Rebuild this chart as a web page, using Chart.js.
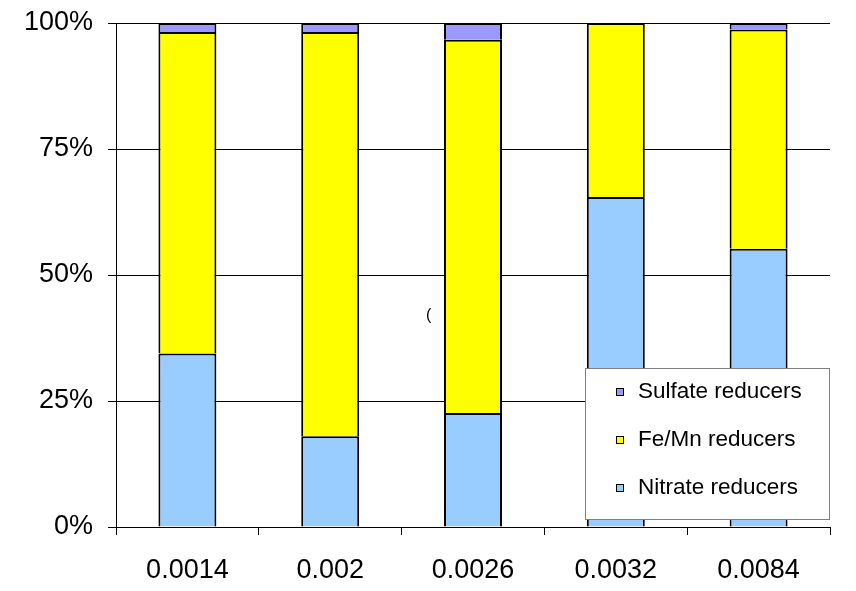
<!DOCTYPE html>
<html>
<head>
<meta charset="utf-8">
<script src="https://cdn.jsdelivr.net/npm/chart.js@4/dist/chart.umd.min.js"></script>
<style>
  body { margin: 0; background: #fff; }
  #wrap { width: 856px; height: 591px; }
</style>
</head>
<body>
<div id="wrap"><canvas id="barChart" width="856" height="591"></canvas></div>
<script>
// categories and stacked percentages
var categories = ['0.0014', '0.002', '0.0026', '0.0032', '0.0084'];
var nitrate    = [34.4, 18.0, 22.6, 65.5, 55.2];
var feMn       = [63.8, 80.2, 74.1, 34.5, 43.5];
var sulfate    = [1.8, 1.8, 3.3, 0, 1.3];
var yTicks     = [0, 25, 50, 75, 100];

var FONT = 'Liberation Sans, Arial, sans-serif';

// legend box drawn inside the plot, like the original
var boxLegend = {
    id: 'boxLegend',
    afterDraw: function(chart) {
        var ctx = chart.ctx;
        var x = 585, y = 368, w = 244, h = 151;
        ctx.save();
        ctx.fillStyle = '#fff';
        ctx.fillRect(x, y, w, h);
        ctx.strokeStyle = '#808080';
        ctx.lineWidth = 1;
        ctx.strokeRect(x + 0.5, y + 0.5, w, h);
        var rows = [392, 440, 488];
        var sets = chart.data.datasets.slice().reverse();
        ctx.font = '22.5px ' + FONT;
        ctx.textBaseline = 'middle';
        for (var i = 0; i < sets.length; i++) {
            ctx.fillStyle = sets[i].backgroundColor;
            ctx.fillRect(616, rows[i] - 4, 8, 8);
            ctx.strokeStyle = '#000';
            ctx.strokeRect(616.5, rows[i] - 3.5, 7, 7);
            ctx.fillStyle = '#000';
            ctx.fillText(sets[i].label, 638, rows[i]);
        }
        // stray glyph left over in the original image
        ctx.font = '16px ' + FONT;
        ctx.fillText('(', 426, 316);
        ctx.restore();
    }
};

var barChartCanvas = document.getElementById('barChart').getContext('2d');
var barChart = new Chart(barChartCanvas, {
    type: 'bar',
    data: {
        labels: categories,
        datasets: [
            { label: 'Nitrate reducers', data: nitrate, backgroundColor: '#99CCFF' },
            { label: 'Fe/Mn reducers',   data: feMn,    backgroundColor: '#FFFF00' },
            { label: 'Sulfate reducers', data: sulfate, backgroundColor: '#9999FF' }
        ]
    },
    options: {
        responsive: false,
        animation: false,
        devicePixelRatio: 1,
        layout: { padding: { top: 23, right: 26, left: 0, bottom: 0 } },
        datasets: {
            bar: {
                borderColor: '#000',
                borderWidth: 2,
                barPercentage: 0.406,
                categoryPercentage: 1
            }
        },
        plugins: {
            legend: { display: false },
            tooltip: { enabled: false }
        },
        scales: {
            x: {
                stacked: true,
                afterFit: function(s) { s.height = 64; s.paddingLeft = 0; s.paddingRight = 0; },
                grid: { drawOnChartArea: false, drawTicks: true, tickLength: 8, color: '#000', offset: true },
                border: { color: '#000', width: 1 },
                ticks: { color: '#000', padding: 19, font: { family: FONT, size: 27 } }
            },
            y: {
                stacked: true,
                min: 0,
                max: 100,
                afterFit: function(s) { s.width = 116; s.paddingTop = 0; s.paddingBottom = 0; },
                afterBuildTicks: function(s) { s.ticks = yTicks.map(function(v) { return { value: v }; }); },
                grid: { color: '#000', tickLength: 8, lineWidth: 1 },
                border: { color: '#000', width: 1 },
                ticks: {
                    color: '#000',
                    padding: 15,
                    font: { family: FONT, size: 27 },
                    callback: function(v) { return v + '%'; }
                }
            }
        }
    },
    plugins: [boxLegend]
});
</script>
</body>
</html>
